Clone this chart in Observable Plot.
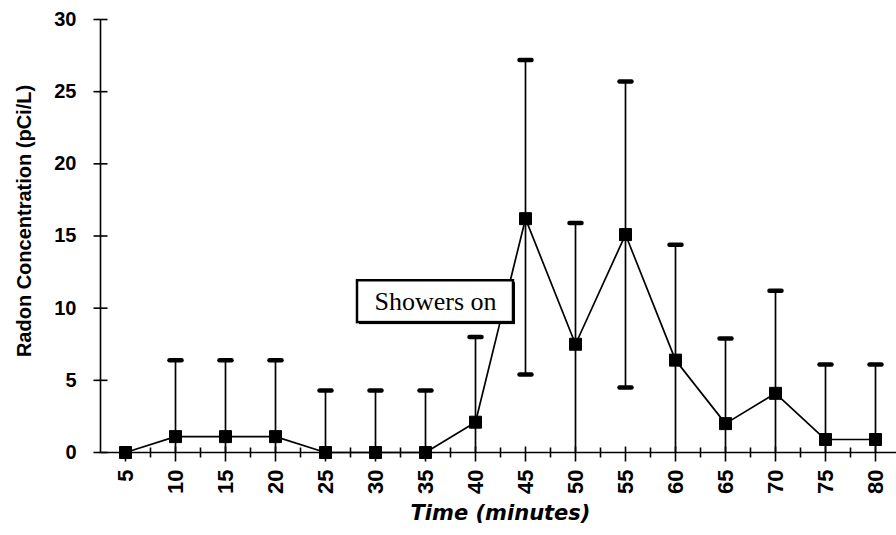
<!DOCTYPE html>
<html>
<head>
<meta charset="utf-8">
<script src="https://cdn.jsdelivr.net/npm/d3@7"></script>
<script src="https://cdn.jsdelivr.net/npm/@observablehq/plot@0.6"></script>
<style>
  html, body { margin: 0; padding: 0; background: #fff; }
  svg { overflow: visible; }
</style>
</head>
<body>
<div id="chart"></div>
<script>
// ---- data ----
const time  = [5, 10, 15, 20, 25, 30, 35, 40, 45, 50, 55, 60, 65, 70, 75, 80];
const conc  = [0, 1.1, 1.1, 1.1, 0, 0, 0, 2.1, 16.2, 7.5, 15.1, 6.4, 2.0, 4.1, 0.9, 0.9];
const upper = [null, 6.4, 6.4, 6.4, 4.3, 4.3, 4.3, 8.0, 27.2, 15.9, 25.7, 14.4, 7.9, 11.2, 6.1, 6.1];
const lower = [null, 0, 0, 0, 0, 0, 0, 0, 5.4, 0, 4.5, 0, 0, 0, 0, 0];
const yTicks = [0, 5, 10, 15, 20, 25, 30];
const xTicks = [5, 10, 15, 20, 25, 30, 35, 40, 45, 50, 55, 60, 65, 70, 75, 80];
const xMinorTicks = [7.5, 12.5, 17.5, 22.5, 27.5, 32.5, 37.5, 42.5, 47.5, 52.5, 57.5, 62.5, 67.5, 72.5, 77.5];
const yTitle = "Radon Concentration (pCi/L)";
const xTitle = "Time (minutes)";
const noteText = ["Showers on"];
const noteBox = {x1: 28.2, x2: 43.8, y1: 9.0, y2: 11.9, x: 36, y: 10.45};

const rows = time.map((t, i) => ({t, v: conc[i], hi: upper[i], lo: lower[i]}));
const withErr = rows.filter(d => d.hi != null);
const lowCaps = rows.filter(d => d.lo != null && d.lo > 0);

// custom glyphs
const squareSym = {draw(c) { c.rect(-6, -6, 12, 12); }};
const capSym = {draw(c) { c.moveTo(-6, 0); c.lineTo(6, 0); }};
const yTickSym = {draw(c) { c.moveTo(-7, 0); c.lineTo(7, 0); }};
const xMajorSym = {draw(c) { c.moveTo(0, -6); c.lineTo(0, 9); }};
const xMinorSym = {draw(c) { c.moveTo(0, -5); c.lineTo(0, 5); }};

const sans = "'Liberation Sans', Arial, Helvetica, sans-serif";
const narrow = "'Liberation Sans Narrow', 'Arial Narrow', 'Liberation Sans', sans-serif";

const chart = Plot.plot({
  width: 896,
  height: 535,
  marginLeft: 100,
  marginRight: 0,
  marginTop: 19,
  marginBottom: 83,
  x: {domain: [2.5, 82.5], range: [100, 900], axis: null},
  y: {domain: [0, 30], range: [452, 19], axis: null},
  style: {background: "#fff", color: "#000"},
  marks: [
    // axes lines
    Plot.ruleX([2.5], {y1: 0, y2: 30, stroke: "#000", strokeWidth: 1.6}),
    Plot.ruleY([0], {x1: 2.5, x2: 82.5, stroke: "#000", strokeWidth: 1.6}),
    // y ticks
    Plot.dot(yTicks, {x: 2.5, y: d => d, symbol: yTickSym, stroke: "#000", strokeWidth: 1.6, fill: "none"}),
    Plot.text(yTicks, {x: 2.5, y: d => d, text: d => String(d), textAnchor: "end", dx: -24,
      fontSize: 20, fontWeight: "bold", fontFamily: sans}),
    // x ticks
    Plot.dot(xTicks, {x: d => d, y: 0, symbol: xMajorSym, stroke: "#000", strokeWidth: 1.6, fill: "none"}),
    Plot.dot(xMinorTicks, {x: d => d, y: 0, symbol: xMinorSym, stroke: "#000", strokeWidth: 1.6, fill: "none"}),
    Plot.text(xTicks, {x: d => d, y: 0, text: d => String(d), rotate: -90, textAnchor: "end",
      lineAnchor: "middle", dy: 17, fontSize: 22, fontWeight: "bold", fontFamily: narrow}),
    // error bars
    Plot.ruleX(withErr, {x: "t", y1: "lo", y2: "hi", stroke: "#000", strokeWidth: 1.7}),
    Plot.dot(withErr, {x: "t", y: "hi", symbol: capSym, stroke: "#000", strokeWidth: 4.5, strokeLinecap: "round", fill: "none"}),
    Plot.dot(lowCaps, {x: "t", y: "lo", symbol: capSym, stroke: "#000", strokeWidth: 4.5, strokeLinecap: "round", fill: "none"}),
    // data line + markers
    Plot.line(rows, {x: "t", y: "v", stroke: "#000", strokeWidth: 1.7}),
    Plot.dot(rows, {x: "t", y: "v", symbol: squareSym, fill: "#000", stroke: "#000", strokeWidth: 1}),
    // annotation
    Plot.rect([noteBox], {x1: "x1", x2: "x2", y1: "y1", y2: "y2", fill: "#000", dx: 2, dy: 2}),
    Plot.rect([noteBox], {x1: "x1", x2: "x2", y1: "y1", y2: "y2", fill: "#fff", stroke: "#000", strokeWidth: 2.5}),
    Plot.text(noteText, {x: noteBox.x, y: noteBox.y, text: d => d, fontSize: 26,
      fontFamily: "'Liberation Serif', 'Times New Roman', serif", fill: "#000"}),
    // axis titles
    Plot.text([yTitle], {frameAnchor: "left", text: d => d, rotate: -90, textAnchor: "middle",
      lineAnchor: "middle", dx: -76, dy: -15,
      fontSize: 20, fontWeight: "bold", fontFamily: narrow}),
    Plot.text([xTitle], {frameAnchor: "bottom", text: d => d, dy: 67, dx: 2,
      fontSize: 21, fontWeight: "bold", fontStyle: "italic", fontFamily: "'DejaVu Sans', sans-serif",
      letterSpacing: "3.5px"})
  ]
});
document.getElementById("chart").appendChild(chart);
</script>
</body>
</html>
